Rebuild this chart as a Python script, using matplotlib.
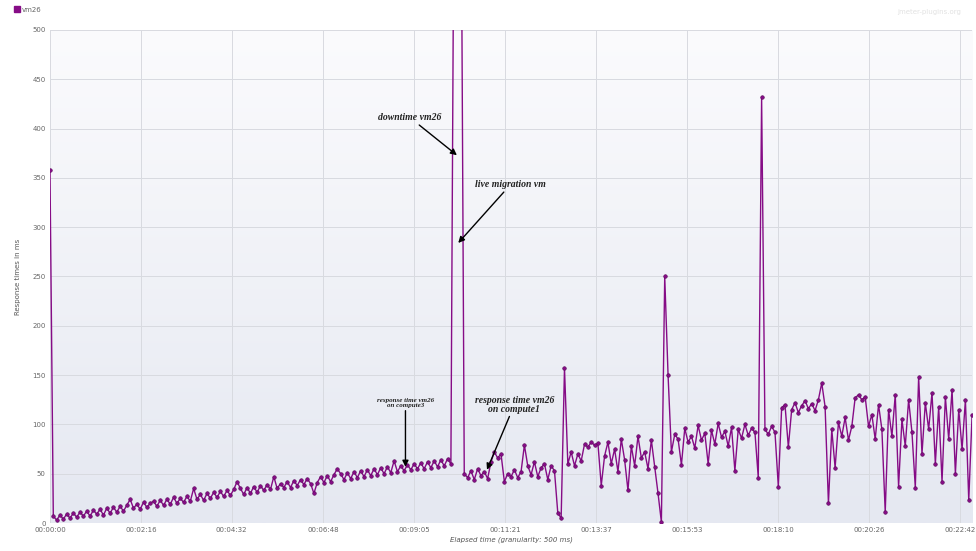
import numpy as np
import matplotlib
matplotlib.use('Agg')
import matplotlib.pyplot as plt
from matplotlib.patches import Patch

# response times (ms), one sample every 5 s
step = 5
resp = [358,
        7, 3, 8, 4, 9, 5, 10, 6, 11, 7,
        12, 7, 13, 9, 14, 8, 15, 10, 16, 11,
        17, 12, 18, 24, 15, 19, 14, 21, 16, 20,
        22, 17, 23, 18, 24, 19, 26, 20, 25, 21,
        27, 22, 35, 24, 29, 23, 30, 25, 31, 26,
        32, 27, 33, 28, 34, 42, 35, 29, 36, 30,
        37, 31, 38, 33, 39, 34, 47, 35, 40, 36,
        42, 36, 43, 38, 44, 39, 45, 40, 30, 41,
        47, 41, 48, 42, 49, 55, 50, 44, 51, 45,
        52, 46, 53, 47, 54, 48, 55, 49, 56, 50,
        57, 51, 63, 52, 58, 53, 59, 54, 60, 55,
        61, 55, 62, 56, 63, 57, 64, 58, 65, 60,
        700, 700, 700,
        50, 46, 53, 44, 55, 48, 52, 45, 62, 72,
        66, 70, 42, 50, 47, 54, 46, 52, 79, 58,
        49, 62, 47, 56, 60, 44, 58, 53, 10, 5,
        157, 60, 72, 58, 70, 63, 80, 77, 82, 79,
        81, 38, 68, 82, 60, 75, 52, 85, 64, 33,
        78, 58, 88, 66, 72, 55, 84, 57, 30, 1,
        250, 150,
        72, 90, 85, 59, 96, 82, 88, 76, 99, 84,
        91, 60, 94, 80, 101, 87, 93, 78, 97, 53,
        95, 86, 100, 89, 96, 92, 46, 432, 95, 90,
        98, 92, 37, 117, 120, 77, 115, 122, 112, 119,
        124, 116, 121, 114, 125, 142, 118, 20, 95, 56,
        102, 88, 107, 84, 98, 127, 130, 125, 128, 98,
        110, 85, 120, 95, 11, 115, 88, 130, 37, 105,
        78, 125, 92, 36, 148, 70, 122, 95, 132, 60,
        118, 42, 128, 85, 135, 50, 115, 75, 125, 23,
        110]
elapsed = np.arange(len(resp)) * step

tick_sec = [0, 136, 272, 409, 545, 681, 817, 953, 1090, 1226, 1362]
tick_lab = ['00:00:00', '00:02:16', '00:04:32', '00:06:48', '00:09:05', '00:11:21',
            '00:13:37', '00:15:53', '00:18:10', '00:20:26', '00:22:42']

purple = '#860c86'

fig = plt.figure(figsize=(9.76, 5.51), dpi=100)
ax = fig.add_axes([0.0512, 0.0508, 0.9448, 0.8948])

# soft background gradient of the plot area
grad = np.linspace(0, 1, 256).reshape(-1, 1)
cmap = matplotlib.colors.LinearSegmentedColormap.from_list('bg', ['#e5e8f1', '#fbfbfd'])
ax.imshow(grad, cmap=cmap, aspect='auto', extent=[0, 1380, 0, 500], origin='lower', zorder=0)

ax.plot(elapsed, resp, color=purple, lw=1.0, marker='o', ms=2.6,
        mfc=purple, mec='#5a0a5a', mew=0.4, zorder=3)

ax.set_xlim(0, 1380)
ax.set_ylim(0, 500)
ax.set_yticks(range(0, 501, 50))
ax.set_xticks(tick_sec)
ax.set_xticklabels(tick_lab)
ax.tick_params(labelsize=5, colors='#666666', length=0, pad=3)
ax.grid(True, color='#d8dae0', lw=0.7)
ax.set_axisbelow(True)
for s in ax.spines.values():
    s.set_visible(False)

ax.set_ylabel('Response times in ms', fontsize=5, color='#555555', labelpad=8)
ax.set_xlabel('Elapsed time (granularity: 500 ms)', fontsize=5, color='#555555',
              style='italic', labelpad=2)

fig.legend(handles=[Patch(color=purple)], labels=['vm26'], loc='upper left',
           bbox_to_anchor=(0.008, 1.0), frameon=False, fontsize=5,
           handlelength=0.8, handleheight=0.9, handletextpad=0.3,
           labelcolor='#666666')
fig.text(0.985, 0.975, 'jmeter-plugins.org', fontsize=5, color='#e2e2e2', ha='right')

note = dict(fontfamily='Liberation Serif', style='italic', fontweight='bold', color='#222222')
arr = dict(arrowstyle='-|>', color='black', lw=1.0, mutation_scale=9, shrinkA=0, shrinkB=0)
ax.annotate('downtime vm26', xy=(609, 373), xytext=(539, 411), ha='center', va='center',
            fontsize=7, arrowprops=arr, **note)
ax.annotate('live migration vm', xy=(611, 284), xytext=(689, 343), ha='center', va='center',
            fontsize=7, arrowprops=arr, **note)
ax.annotate('response time vm26\non compute3', xy=(532, 57), xytext=(532, 122),
            ha='center', va='center', fontsize=5, linespacing=1.1,
            arrowprops=arr, **note)
ax.annotate('response time vm26\non compute1', xy=(654, 54), xytext=(695, 120),
            ha='center', va='center', fontsize=7, linespacing=1.0,
            arrowprops=arr, **note)

fig.savefig('out.png', dpi=100)
